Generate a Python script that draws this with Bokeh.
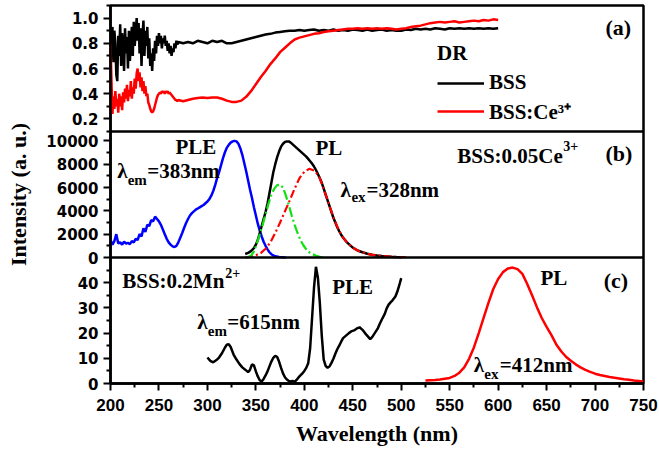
from bokeh.plotting import figure
from bokeh.models import Label, Legend, LegendItem, Range1d, FixedTicker, Span
from bokeh.embed import file_html
from bokeh.resources import INLINE

# ---------------- data ----------------
# (a) diffuse reflectance
bss_wl = list(range(200, 271)) + list(range(275, 601, 5))
bss_dr = [0.88, 0.72, 0.93, 0.65, 0.90, 0.80, 0.55, 0.50, 0.86, 0.70,
          0.95, 0.62, 0.88, 0.78, 0.58, 0.92, 0.72, 0.85, 0.60, 0.90,
          0.66, 0.80, 0.93, 0.70, 0.97, 0.78, 0.88, 1.00, 0.82, 0.96,
          0.72, 0.92, 0.62, 0.86, 0.98, 0.70, 0.90, 0.78, 0.93, 0.68,
          0.84, 0.62, 0.72, 0.58, 0.76, 0.66, 0.82, 0.72, 0.86, 0.78,
          0.88, 0.80, 0.86, 0.76, 0.84, 0.80, 0.86, 0.78, 0.82, 0.74,
          0.80, 0.72, 0.78, 0.70, 0.76, 0.73, 0.80, 0.76, 0.82, 0.79,
          0.81,
          0.80, 0.81, 0.80, 0.82, 0.81, 0.80, 0.82, 0.81, 0.82, 0.80,
          0.80, 0.81, 0.82, 0.83, 0.84, 0.85, 0.86, 0.87, 0.875, 0.885,
          0.89, 0.895, 0.90, 0.90, 0.905, 0.90, 0.905, 0.91, 0.90, 0.905,
          0.90, 0.91, 0.90, 0.905, 0.90, 0.91, 0.905, 0.90, 0.91, 0.90,
          0.905, 0.91, 0.90, 0.905, 0.90, 0.90, 0.91, 0.905, 0.915, 0.91,
          0.915, 0.91, 0.92, 0.915, 0.91, 0.92, 0.915, 0.92, 0.915, 0.92,
          0.915, 0.92, 0.915, 0.92, 0.915, 0.92]
ce_wl = list(range(200, 271)) + list(range(275, 601, 5))
ce_dr = [0.80, 0.50, 0.24, 0.38, 0.28, 0.42, 0.30, 0.36, 0.25, 0.40,
         0.30, 0.38, 0.27, 0.41, 0.33, 0.44, 0.36, 0.47, 0.34, 0.43,
         0.38, 0.50, 0.36, 0.45, 0.40, 0.52, 0.44, 0.56, 0.60, 0.50,
         0.57, 0.45, 0.53, 0.42, 0.50, 0.40, 0.46, 0.38, 0.40, 0.33,
         0.31, 0.28, 0.26, 0.25, 0.26, 0.28, 0.31, 0.34, 0.37, 0.39,
         0.40, 0.41, 0.40, 0.42, 0.41, 0.42, 0.40, 0.42, 0.41, 0.42,
         0.40, 0.41, 0.40, 0.39, 0.38, 0.37, 0.36, 0.35, 0.35, 0.34,
         0.35,
         0.34, 0.35, 0.36, 0.365, 0.37, 0.365, 0.37, 0.37, 0.36, 0.345,
         0.335, 0.335, 0.345, 0.375, 0.42, 0.475, 0.53, 0.58, 0.635, 0.68,
         0.73, 0.765, 0.80, 0.83, 0.845, 0.855, 0.865, 0.875, 0.88, 0.89,
         0.895, 0.90, 0.905, 0.91, 0.915, 0.915, 0.92, 0.915, 0.92, 0.915,
         0.92, 0.915, 0.92, 0.915, 0.91, 0.915, 0.92, 0.93, 0.935, 0.94,
         0.95, 0.96, 0.965, 0.97, 0.965, 0.97, 0.975, 0.965, 0.97, 0.975,
         0.98, 0.975, 0.985, 0.98, 0.99, 0.985]

# (b) BSS:0.05Ce3+ PLE / PL
ple_ce_wl = list(range(200, 372, 2)) + [374, 378, 381]
ple_ce = [1500, 1100, 1400, 2000, 1200, 1300, 1100, 1350, 1200, 1250,
          1150, 1400, 1300, 1600, 1500, 2000, 1800, 2500, 2200, 2800,
          2700, 3200, 3100, 3500, 3300, 3100, 2800, 2400, 2000, 1600,
          1300, 1100, 950, 900, 1000, 1300, 1700, 2100, 2550, 2950,
          3300, 3600, 3800, 3950, 4100, 4200, 4300, 4400, 4500, 4650,
          4800, 5000, 5300, 5700, 6200, 6800, 7300, 7900, 8500, 9000,
          9400, 9650, 9850, 9950, 10000, 9950, 9750, 9350, 8800, 8100,
          7400, 6600, 5800, 5100, 4300, 3600, 2900, 2300, 1800, 1350,
          1000, 700, 450, 280, 170, 100, 50, 20, 10]
pl_ce_wl = [339, 342, 345, 348] + list(range(350, 452, 2)) + list(range(455, 501, 5))
pl_ce = [300, 400, 550, 800,
         1100, 1500, 2100, 2700, 3300, 3900, 4600, 5500, 6400, 7300,
         8000, 8600, 9100, 9500, 9750, 9900, 9950, 9950, 9850, 9700,
         9550, 9400, 9250, 9100, 8950, 8800, 8650, 8450, 8250, 8050,
         7800, 7500, 7150, 6800, 6400, 5900, 5400, 4900, 4400, 3900,
         3400, 3000, 2600, 2250, 1950, 1700, 1500, 1300, 1150, 1000, 850,
         600, 450, 320, 230, 170, 120, 90, 60, 40, 30]
fit1_wl = [339] + list(range(345, 506, 5))
fit1 = [0, 80, 200, 380, 750, 1300, 2100, 3000, 3950, 4900, 5900, 6800,
        7350, 7600, 7450, 7000, 5900, 4650, 3450, 2450, 1700, 1200, 850,
        600, 450, 320, 230, 170, 120, 90, 60, 40, 30, 20]
fit2_wl = [341, 345, 348, 351, 354, 357, 360, 363, 366, 369, 372, 375, 378,
           381, 384, 387, 390, 393, 396, 399, 402, 405, 408, 412, 416, 420]
fit2 = [0, 150, 500, 1200, 2000, 2800, 3700, 4600, 5400, 5900, 6200, 6250,
        6000, 5300, 4500, 3600, 2800, 2100, 1500, 1050, 700, 450, 300, 150,
        60, 20]

# (c) BSS:0.2Mn2+ PLE / PL
ple_mn_wl = [300, 303, 306, 309, 312, 315, 318, 320, 322, 324, 327, 330, 333,
             336, 339, 342, 344, 346, 348, 350, 352, 354, 356, 358, 360, 362,
             364, 366, 368, 370, 372, 374, 376, 378, 380, 382, 384, 386, 388,
             390, 392, 394, 396, 398, 400, 402, 404, 406, 408, 410, 412, 414,
             416, 418, 420, 422, 424, 426, 428, 430, 432, 434, 436, 438, 440,
             443, 446, 449, 452, 455, 457, 460, 463, 466, 468, 470, 473, 476,
             478, 480, 483, 485, 487, 489, 491, 494, 496, 498, 500]
ple_mn = [10.3, 9.0, 8.4, 9.2, 10.3, 12.0, 14.2, 15.4, 15.6, 14.5, 11.5, 9.5,
          7.8, 6.4, 5.5, 4.5, 5.5, 7.6, 7.2, 4.8, 2.8, 1.3, 0.8, 1.8, 3.2,
          4.8, 6.8, 8.7, 10.2, 11.0, 10.5, 8.6, 6.2, 4.0, 2.5, 1.6, 1.0, 0.8,
          1.0, 0.6, 1.4, 2.4, 3.2, 4.0, 5.0, 6.2, 8.0, 14.0, 26.0, 38.0, 46.3,
          42.0, 32.0, 19.0, 9.5, 7.0, 6.2, 6.8, 8.2, 9.8, 11.8, 13.6, 15.0,
          16.6, 18.0, 19.0, 20.0, 20.8, 21.2, 22.0, 22.3, 21.3, 19.8, 18.5,
          17.6, 18.4, 20.2, 22.0, 23.8, 25.4, 27.6, 29.8, 31.3, 32.2, 33.0,
          34.5, 36.5, 39.0, 41.8]
pl_mn_wl = list(range(525, 751, 5))
pl_mn = [1.2, 1.3, 1.4, 1.6, 1.9, 2.2, 3.0, 4.3, 6.4, 9.8, 14.3, 20.0, 26.0,
         32.0, 37.5, 41.5, 44.2, 45.6, 46.0, 45.4, 43.5, 39.5, 35.0, 30.3,
         26.0, 22.5, 19.2, 15.5, 12.8, 10.6, 9.0, 7.6, 6.4, 5.4, 4.6, 3.9,
         3.4, 3.0, 2.6, 2.3, 2.0, 1.7, 1.5, 1.2, 1.0, 0.8]

x_ticks = [200, 250, 300, 350, 400, 450, 500, 550, 600, 650, 700, 750]
x_minor = [225, 275, 325, 375, 425, 475, 525, 575, 625, 675, 725]
a_ticks = [0.2, 0.4, 0.6, 0.8, 1.0]
a_labels = ["0.2", "0.4", "0.6", "0.8", "1.0"]
a_minor = [0.1, 0.3, 0.5, 0.7, 0.9, 1.1]
b_ticks = [0, 2000, 4000, 6000, 8000, 10000]
b_labels = ["0", "2000", "4000", "6000", "8000", "10000"]
b_minor = [1000, 3000, 5000, 7000, 9000]
c_ticks = [0, 10, 20, 30, 40]
c_labels = ["0", "10", "20", "30", "40"]
c_minor = [5, 15, 25, 35, 45]

# ---------------- stacked panels in one frame ----------------
SERIF = "Liberation Serif"
BAND = 1080                     # height of one panel in the frame's units
# panel name -> (band index from bottom, value at band bottom, value at band top)
panels = {"a": (2, 0.1, 1.1), "b": (1, 0.0, 10800.0), "c": (0, 0.0, 50.0)}


def band_pos(name, v):
    k, lo, hi = panels[name]
    return round(k * BAND + (v - lo) * BAND / (hi - lo), 6)


p = figure(width=659, height=455, output_backend="svg", toolbar_location=None,
           x_range=Range1d(200, 750), y_range=Range1d(0, 3 * BAND),
           min_border_left=110, min_border_right=16,
           min_border_top=5, min_border_bottom=72)
for name, (k, lo, hi) in panels.items():
    span = hi - lo
    p.extra_y_ranges[name] = Range1d(lo - k * span, hi + (2 - k) * span)

p.xgrid.visible = False
p.ygrid.visible = False
p.outline_line_color = "black"
p.outline_line_width = 2.5
p.background_fill_color = "white"
p.border_fill_color = "white"

for loc in (BAND, 2 * BAND):
    p.add_layout(Span(location=loc, dimension="width", line_color="black",
                      line_width=2.5))


def style_axis(ax, font, size):
    ax.axis_line_width = 2.5
    ax.axis_line_color = "black"
    ax.major_tick_line_width = 2
    ax.minor_tick_line_width = 2
    ax.major_tick_line_color = "black"
    ax.minor_tick_line_color = "black"
    ax.major_tick_in = 0
    ax.major_tick_out = 7
    ax.minor_tick_in = 0
    ax.minor_tick_out = 4
    ax.major_label_text_font = font
    ax.major_label_text_font_style = "bold"
    ax.major_label_text_font_size = size
    ax.major_label_text_color = "black"
    ax.axis_label_text_color = "black"
    ax.axis_label_text_font = SERIF
    ax.axis_label_text_font_style = "bold"
    ax.axis_label_text_font_size = "22px"


# y axis: one axis carrying the ticks of all three panels
y_major, y_minor, overrides = [], [], {}
for name, ticks, labels, minor in (("a", a_ticks, a_labels, a_minor),
                                   ("b", b_ticks, b_labels, b_minor),
                                   ("c", c_ticks, c_labels, c_minor)):
    for t, s in zip(ticks, labels):
        pos = band_pos(name, t)
        y_major.append(pos)
        overrides[pos] = s
    y_minor += [band_pos(name, m) for m in minor]
yax = p.yaxis[0]
yax.ticker = FixedTicker(ticks=y_major, minor_ticks=y_minor)
yax.major_label_overrides = overrides
style_axis(yax, "DejaVu Sans", "15px")
yax.axis_label = "Intensity (a. u.)"
yax.axis_label_standoff = 12

xax = p.xaxis[0]
xax.ticker = FixedTicker(ticks=x_ticks, minor_ticks=x_minor)
style_axis(xax, "Liberation Sans", "17px")
xax.major_label_standoff = 8
xax.axis_label = "Wavelength (nm)"
xax.axis_label_standoff = 7

LIFT = 7  # screen px


def lab(panel, x, y, text, size="21px", dx=0, dy=0):
    p.add_layout(Label(x=x, y=y, y_range_name=panel, text=text,
                       x_offset=dx, y_offset=dy + LIFT,
                       text_font=SERIF, text_font_style="bold",
                       text_font_size=size, text_color="black",
                       text_baseline="alphabetic", text_align="left"))


# ---- (a)
r_bss = p.line(bss_wl, bss_dr, y_range_name="a", color="black", line_width=2.5)
r_ce = p.line(ce_wl, ce_dr, y_range_name="a", color="red", line_width=2.5)
leg = Legend(items=[LegendItem(label="BSS", renderers=[r_bss]),
                    LegendItem(label="BSS:Ce³⁺", renderers=[r_ce])],
             title="DR", location=(327, 258))
leg.title_text_font = SERIF
leg.title_text_font_style = "bold"
leg.title_text_font_size = "21px"
leg.title_text_color = "black"
leg.label_text_font = SERIF
leg.label_text_font_style = "bold"
leg.label_text_font_size = "21px"
leg.label_text_color = "black"
leg.glyph_width = 47
leg.glyph_height = 24
leg.label_height = 24
leg.spacing = 2
leg.padding = 0
leg.margin = 0
leg.label_standoff = 5
leg.title_standoff = 4
leg.border_line_alpha = 0
leg.background_fill_alpha = 0
p.add_layout(leg)
lab("a", 710.8, 0.87, "(a)", "22px")

# ---- (b)
p.line(ple_ce_wl, ple_ce, y_range_name="b", color="#0000ff", line_width=2.5)
p.line(pl_ce_wl, pl_ce, y_range_name="b", color="black", line_width=2.5)
p.line(fit1_wl, fit1, y_range_name="b", color="red", line_width=2.2,
       line_dash="8 3 2 3")
p.line(fit2_wl, fit2, y_range_name="b", color="#11e011", line_width=2.2,
       line_dash="10 3 2 3")
lab("b", 267.1, 8889, "PLE")
lab("b", 206.9, 6857, "λ")
lab("b", 206.9, 6857, "em", "15px", dx=10.5, dy=-9)
lab("b", 206.9, 6857, "=383nm", dx=30)
lab("b", 411.5, 8743, "PL")
lab("b", 437.3, 5169, "λ")
lab("b", 437.3, 5169, "ex", "15px", dx=11, dy=-7)
lab("b", 437.3, 5169, "=328nm", dx=26)
lab("b", 557.8, 8083, "BSS:0.05Ce")
lab("b", 557.8, 8083, "3+", "14px", dx=106, dy=10)
lab("b", 710.8, 8314, "(b)", "22px")

# ---- (c)
p.line(ple_mn_wl, ple_mn, y_range_name="c", color="black", line_width=2.5)
p.line(pl_mn_wl, pl_mn, y_range_name="c", color="red", line_width=2.5)
lab("c", 212.1, 37.98, "BSS:0.2Mn")
lab("c", 212.1, 37.98, "2+", "14px", dx=103, dy=8)
lab("c", 289.5, 21.7, "λ")
lab("c", 289.5, 21.7, "em", "15px", dx=10.5, dy=-9)
lab("c", 289.5, 21.7, "=615nm", dx=30)
lab("c", 428.8, 35.6, "PLE")
lab("c", 643.7, 38.9, "PL")
lab("c", 709.0, 38.2, "(c)", "22px")
lab("c", 574.9, 4.48, "λ")
lab("c", 574.9, 4.48, "ex", "15px", dx=10.5, dy=-9)
lab("c", 574.9, 4.48, "=412nm", dx=26)

open("out.html", "w").write(file_html(p, INLINE))
